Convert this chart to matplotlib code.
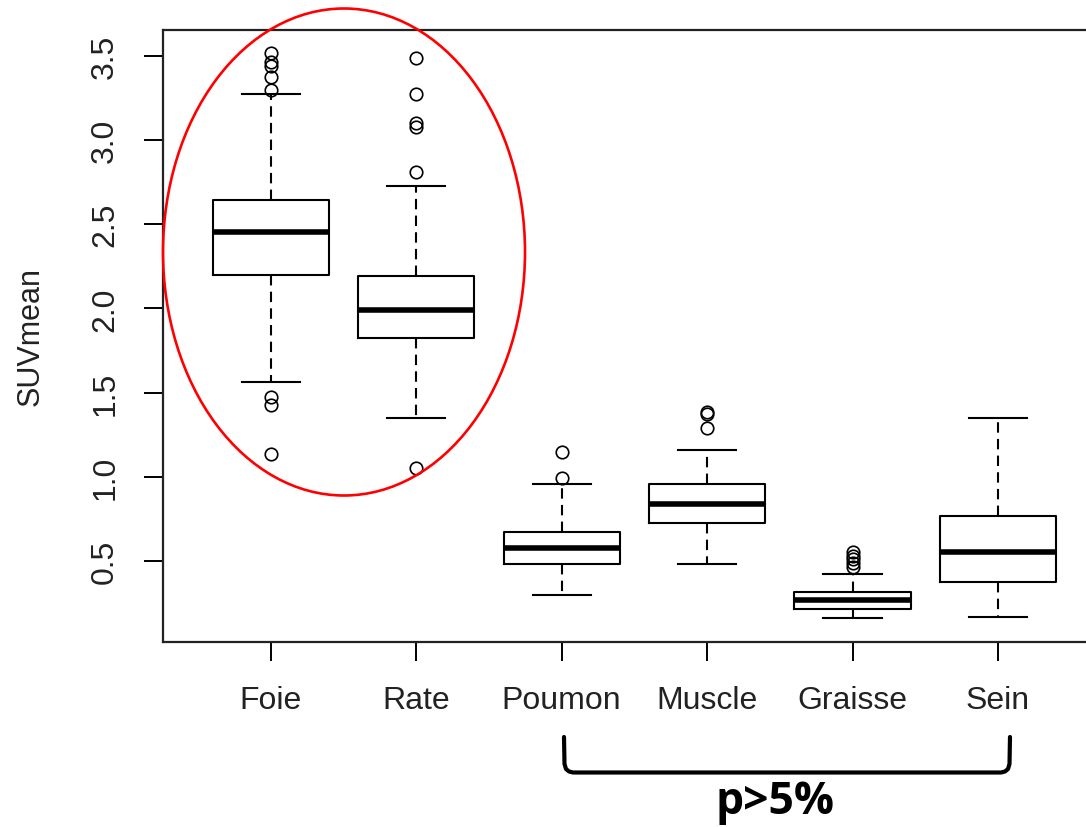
import numpy as np
import matplotlib.pyplot as plt
from matplotlib.patches import Ellipse
from matplotlib.lines import Line2D

# Organs and boxplot statistics
organs = ["Foie", "Rate", "Poumon", "Muscle", "Graisse", "Sein"]
q1 = [2.20, 1.823, 0.480, 0.727, 0.216, 0.373]
med = [2.452, 1.989, 0.575, 0.836, 0.266, 0.551]
q3 = [2.644, 2.193, 0.670, 0.955, 0.315, 0.767]
whislo = [1.561, 1.349, 0.299, 0.480, 0.159, 0.168]
whishi = [3.274, 2.728, 0.955, 1.157, 0.420, 1.347]
fliers = [
    [3.515, 3.465, 3.44, 3.375, 3.30, 1.474, 1.426, 1.135],
    [3.488, 3.274, 3.10, 3.076, 2.81, 1.05],
    [1.145, 0.993],
    [1.383, 1.37, 1.288],
    [0.555, 0.531, 0.51, 0.49, 0.465],
    [],
]
yticks = [0.5, 1.0, 1.5, 2.0, 2.5, 3.0, 3.5]

W, H = 1086, 828
fig = plt.figure(figsize=(W / 100, H / 100), dpi=100)

# axes box (right edge runs past the figure like in the reference)
left, right = 163.2, 1105.6
top, bottom = 30.7, 643
ax = fig.add_axes([left / W, 1 - bottom / H, (right - left) / W, (bottom - top) / H])

stats = []
for i, name in enumerate(organs):
    stats.append(dict(label=name, q1=q1[i], med=med[i], q3=q3[i],
                      whislo=whislo[i], whishi=whishi[i], fliers=fliers[i]))

ax.bxp(stats, positions=range(1, len(organs) + 1), widths=0.8,
       boxprops=dict(color="black", linewidth=1.5),
       medianprops=dict(color="black", linewidth=4, solid_capstyle="butt"),
       whiskerprops=dict(color="black", linewidth=1.5, linestyle=(0, (5, 3))),
       capprops=dict(color="black", linewidth=1.5),
       capwidths=0.4,
       flierprops=dict(marker="o", markerfacecolor="none", markeredgecolor="black",
                       markersize=9, markeredgewidth=1.2))

ax.set_xlim(0.26, 6.74)
ax.set_ylim(0.018, 3.656)
ax.set_yticks(yticks)
ax.set_yticklabels([f"{v:.1f}" for v in yticks], rotation=90, va="center")
ax.set_xticks(range(1, len(organs) + 1))
ax.set_xticklabels(organs)

font = ["Liberation Sans", "DejaVu Sans"]
for lab in ax.get_xticklabels() + ax.get_yticklabels():
    lab.set_family(font)
    lab.set_fontsize(23)
    lab.set_color("#222222")
ax.tick_params(axis="x", length=14, width=1.4, pad=17)
ax.tick_params(axis="y", length=14, width=1.4, pad=17)
for s in ax.spines.values():
    s.set_linewidth(1.6)
    s.set_color("#222222")

fig.text(31 / W, 1 - 337 / H, "SUVmean", rotation=90, ha="center", va="center",
         fontsize=22, family=font, color="#222222")

# red ellipse around Foie / Rate
fig.patches.append(Ellipse((344 / W, 1 - 253 / H), 362 / W, 487 / H,
                           transform=fig.transFigure, fill=False,
                           edgecolor="red", linewidth=1.9))

# bracket under Poumon..Sein
bx = np.array([564, 564.5, 566, 569, 573, 1001, 1005, 1008, 1009.5, 1010]) / W
by = 1 - np.array([738, 765, 770, 772.5, 773.5, 773.5, 772.5, 770, 765, 738]) / H
fig.lines.append(Line2D(bx, by, transform=fig.transFigure, color="black",
                        linewidth=3, solid_joinstyle="round", solid_capstyle="round"))
fig.text(775 / W, 1 - 803 / H, "p>5%", ha="center", va="center", fontsize=32,
         fontweight="bold", family=["Open Sans", "DejaVu Sans"])

fig.savefig("out.png", dpi=100)
